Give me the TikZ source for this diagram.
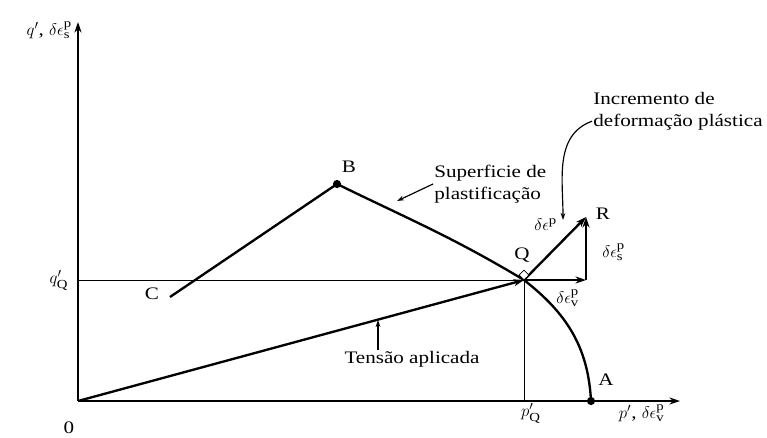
\documentclass[tikz,border=0pt]{standalone}
\usepackage{amsmath,amssymb}
\usepackage{fontspec}
\setmainfont[FakeStretch=1.2]{Liberation Serif}
\usetikzlibrary{positioning,calc}
\usetikzlibrary{arrows.meta}
\tikzset{
  axis/.style={draw=black,line width=1.3pt,-{Stealth[length=9pt,width=6pt]}},
  path/.style={draw=black,line width=2pt},
  vec/.style={path,-{Stealth[length=9pt,width=6pt]}},
  thin/.style={draw=black,line width=0.7pt},
  note/.style={draw=black,line width=1pt,-{Stealth[length=6pt,width=4pt]}},
  lab/.style={inner sep=1pt,font=\fontsize{15}{18.5}\selectfont},
}
\tikzset{dot/.style={circle,fill=black,inner sep=0pt,minimum size=7pt}}

\begin{document}
\begin{tikzpicture}[x=0.03cm,y=0.03cm]
\useasboundingbox (0,0) rectangle (767,437);
\coordinate (o) at (78,36);
\coordinate (ytop) at (78,415);
\coordinate (xend) at (680,36);
\coordinate (q) at (524,157);
\coordinate (qy) at (78,157);
\coordinate (qx) at (524,36);
\coordinate (a) at (591,36);
\coordinate (b) at (337,253);
\coordinate (c) at (170,140);
\coordinate (rc) at (586,157);
\coordinate (r) at (586,220);
\draw[axis] (o)--(ytop);
\draw[axis] (o)--(xend);
\draw[thin] (qy)--(q);
\draw[thin] (qx)--(q);
\draw[path] (c)--(b);
\draw[path] (b) to[out=-26,in=149] (q) to[out=-38,in=93] (a);
\draw[vec] (o)--(q);
\draw[vec] (q)--(rc);
\draw[vec] (rc)--(r);
\draw[vec] (q)--(r);
\draw[thin,fill=white] (q) -- ++(45:7) -- ++(135:7) -- ++(-135:7) -- cycle;
\node[dot] (nb) at (b) {};
\node[dot] (na) at (a) {};
% labels
\node[lab,left] (ylab) at (72,407) {$q'$, $\delta\epsilon^{\mathrm{p}}_{\mathrm{s}}$};
\node[lab] (zero) at (69,9) {0};
\node[lab] (qqlab) at (58,157) {$q'_{\mathrm{Q}}$};
\node[lab] (pqlab) at (530,24) {$p'_{\mathrm{Q}}$};
\node[lab] (xlab) at (641,24) {$p'$, $\delta\epsilon^{\mathrm{p}}_{\mathrm{v}}$};
\node[lab] (clab) at (152,143) {C};
\node[lab] (blab) at (349,270) {B};
\node[lab] (alab) at (606,57) {A};
\node[lab] (qlab) at (522,182) {Q};
\node[lab] (rlab) at (603,223) {R};
\node[lab] (delab) at (545,212) {$\delta\epsilon^{\mathrm{p}}$};
\node[lab] (dslab) at (613,185) {$\delta\epsilon^{\mathrm{p}}_{\mathrm{s}}$};
\node[lab] (dvlab) at (567,139) {$\delta\epsilon^{\mathrm{p}}_{\mathrm{v}}$};
\node[lab] (tens) at (412,78) {Tensão aplicada};
\node[lab,align=left,anchor=west] (surf) at (433,253) {Superficie de\\plastificação};
\node[lab,align=left,anchor=west] (incr) at (592,326) {Incremento de\\deformação plástica};
% pointers
\coordinate (tp) at (378,117);
\coordinate (sp) at (397,236);
\coordinate (ip) at (563,217);
\draw[note] (tens.north -| tp) -- (tp);
\draw[note] (surf.west) -- (sp);
\draw[note] (incr.south west) ++(0,10) to[out=200,in=90] (ip);
\end{tikzpicture}
\end{document}
